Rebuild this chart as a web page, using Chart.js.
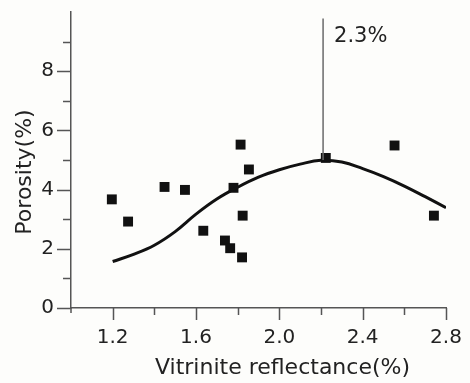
<!DOCTYPE html>
<html>
<head>
<meta charset="utf-8">
<script src="https://cdn.jsdelivr.net/npm/chart.js@4.4.1/dist/chart.umd.min.js"></script>
<style>
  html, body { margin: 0; padding: 0; background: #fdfdfb; }
  #wrap { width: 470px; height: 383px; }
</style>
</head>
<body>
<div id="wrap"><canvas id="porosityChart"></canvas></div>
<script>
// Measured samples: vitrinite reflectance (%) against porosity (%)
const reflectance = [1.196, 1.274, 1.449, 1.547, 1.635, 1.739, 1.764, 1.780, 1.814, 1.824, 1.821, 1.854, 2.223, 2.553, 2.742];
const porosity    = [3.67, 2.92, 4.09, 3.99, 2.61, 2.28, 2.02, 4.06, 5.52, 3.12, 1.71, 4.68, 5.07, 5.49, 3.12];

// Trend curve through the samples
const trendRo       = [1.2, 1.3, 1.4, 1.5, 1.6, 1.7, 1.8, 1.9, 2.0, 2.1, 2.2, 2.3, 2.4, 2.5, 2.6, 2.7, 2.8];
const trendPorosity = [1.57, 1.81, 2.12, 2.58, 3.17, 3.68, 4.08, 4.42, 4.67, 4.86, 4.99, 4.93, 4.71, 4.44, 4.12, 3.76, 3.39];

// Vertical marker at the porosity peak
const peakRo = [2.21, 2.21];
const peakPorosity = [5.0, 9.78];
const peakLabel = '2.3%';

const xTickLabels = ['1.2', '1.6', '2.0', '2.4', '2.8'];
const yTickLabels = ['0', '2', '4', '6', '8'];

const FONT = 'DejaVu Sans';
Chart.defaults.font.family = FONT;
Chart.defaults.color = '#222';

const toPoints = (xs, ys) => xs.map((x, i) => ({ x: x, y: ys[i] }));

// tick marks (long for labelled ticks, short otherwise), axis titles and peak label
const axisDecor = {
  id: 'axisDecor',
  afterDraw(chart) {
    const ctx = chart.ctx;
    const xs = chart.scales.x;
    const ys = chart.scales.y;
    const area = chart.chartArea;
    ctx.save();
    ctx.strokeStyle = '#555';
    ctx.lineWidth = 1.5;
    ctx.beginPath();
    xs.ticks.forEach(t => {
      if (t.value <= xs.min + 1e-6) return;
      const px = Math.round(xs.getPixelForValue(t.value)) + 0.5;
      const len = xTickLabels.includes(t.value.toFixed(1)) ? 12 : 7;
      ctx.moveTo(px, area.bottom);
      ctx.lineTo(px, area.bottom + len);
    });
    ys.ticks.forEach(t => {
      if (t.value >= ys.max) return;
      const py = Math.round(ys.getPixelForValue(t.value)) + 0.5;
      const len = yTickLabels.includes(String(t.value)) ? 14 : 8;
      ctx.moveTo(area.left, py);
      ctx.lineTo(area.left - len, py);
    });
    // small stub of the y axis below the origin
    ctx.moveTo(area.left, area.bottom);
    ctx.lineTo(area.left, area.bottom + 5);
    ctx.stroke();

    ctx.fillStyle = '#222';
    ctx.font = '22px ' + FONT;
    ctx.textAlign = 'center';
    ctx.textBaseline = 'alphabetic';
    ctx.fillText('Vitrinite reflectance(%)', (area.left + area.right) / 2 + 24, 374);

    ctx.save();
    ctx.translate(31, (area.top + area.bottom) / 2 + 12);
    ctx.rotate(-Math.PI / 2);
    ctx.fillText('Porosity(%)', 0, 0);
    ctx.restore();

    ctx.font = '21px ' + FONT;
    ctx.textAlign = 'left';
    ctx.fillText(peakLabel, xs.getPixelForValue(peakRo[0]) + 11, 42);
    ctx.restore();
  }
};

new Chart(document.getElementById('porosityChart'), {
  type: 'scatter',
  data: {
    datasets: [
      {
        type: 'line',
        data: toPoints(peakRo, peakPorosity),
        borderColor: '#6a6a6a',
        borderWidth: 1.5,
        pointRadius: 0
      },
      {
        type: 'line',
        data: toPoints(trendRo, trendPorosity),
        borderColor: '#111',
        borderWidth: 3,
        tension: 0.4,
        pointRadius: 0
      },
      {
        data: toPoints(reflectance, porosity),
        pointStyle: 'rect',
        pointRadius: 7,
        pointHoverRadius: 7,
        backgroundColor: '#111',
        borderColor: '#111',
        borderWidth: 0
      }
    ]
  },
  options: {
    responsive: true,
    maintainAspectRatio: false,
    animation: false,
    layout: { padding: { left: 0, top: 12, right: 24, bottom: 0 } },
    plugins: {
      legend: { display: false },
      tooltip: { enabled: false }
    },
    scales: {
      x: {
        type: 'linear',
        min: 1.0,
        max: 2.8,
        afterFit: (scale) => {
          scale.height = 75;
          scale.paddingLeft = 0;
          scale.paddingRight = 0;
        },
        ticks: {
          stepSize: 0.2,
          padding: 18,
          maxRotation: 0,
          autoSkip: false,
          font: { size: 20 },
          callback: (v) => xTickLabels.includes(v.toFixed(1)) ? v.toFixed(1) : ''
        },
        grid: { display: false, drawTicks: false },
        border: { display: true, color: '#555', width: 1.5 }
      },
      y: {
        type: 'linear',
        min: 0,
        max: 10,
        afterFit: (scale) => {
          scale.width = 71;
          scale.paddingTop = 0;
          scale.paddingBottom = 0;
        },
        ticks: {
          stepSize: 1,
          padding: 17,
          autoSkip: false,
          font: { size: 20 },
          callback: (v) => yTickLabels.includes(String(v)) ? String(v) : ''
        },
        grid: { display: false, drawTicks: false },
        border: { display: true, color: '#555', width: 1.5 }
      }
    }
  },
  plugins: [axisDecor]
});
</script>
</body>
</html>
